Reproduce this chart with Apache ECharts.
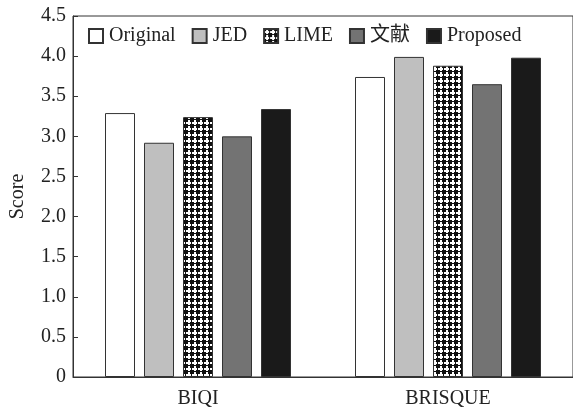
<!DOCTYPE html>
<html>
<head>
<meta charset="utf-8">
<script src="https://cdn.jsdelivr.net/npm/echarts@6/dist/echarts.min.js"></script>
<style>html,body{margin:0;padding:0;background:#fff}#c{width:573px;height:413px}</style>
</head>
<body>
<div id="c"></div>
<script>
const categories = ['BIQI', 'BRISQUE'];
const seriesNames = ['Original', 'JED', 'LIME', '文献', 'Proposed'];
const original = [3.29, 3.74];
const jed = [2.92, 3.99];
const lime = [3.24, 3.88];
const wenxian = [3.00, 3.65];
const proposed = [3.34, 3.98];
const yTicks = ['0', '0.5', '1.0', '1.5', '2.0', '2.5', '3.0', '3.5', '4.0', '4.5'];

function makePattern() {
  const c = document.createElement('canvas');
  c.width = 6; c.height = 6;
  const g = c.getContext('2d');
  g.fillStyle = '#111';
  g.fillRect(0, 0, 6, 6);
  g.fillStyle = '#fff';
  g.fillRect(2, 0, 2, 5);
  g.fillRect(0, 2, 5, 2);
  return c;
}

const font = '"Liberation Serif", "Times New Roman", serif';
const fills = ['#ffffff', '#bfbfbf', {image: makePattern(), repeat: 'repeat'}, '#737373', '#1a1a1a'];
const dataArr = [original, jed, lime, wenxian, proposed];

const chart = echarts.init(document.getElementById('c'), null, {renderer: 'canvas'});
chart.setOption({
  backgroundColor: '#fff',
  animation: false,
  grid: {left: 70, right: -1, top: 16, bottom: 36, show: true, borderColor: '#333', borderWidth: 1, backgroundColor: 'transparent'},
  legend: {
    left: 83, top: 21, itemWidth: 14, itemHeight: 14, itemGap: 16,
    icon: 'rect',
    data: seriesNames,
    textStyle: {fontFamily: font + ', "Noto Sans CJK SC"', fontSize: 20, color: '#222', padding: [0, 0, 0, 1]}
  },
  xAxis: {
    type: 'category', data: categories,
    axisLine: {lineStyle: {color: '#333'}},
    axisTick: {show: false},
    axisLabel: {fontFamily: font, fontSize: 20, color: '#222', margin: 12}
  },
  yAxis: {
    type: 'value', min: 0, max: 4.5, interval: 0.5,
    name: 'Score', nameLocation: 'middle', nameGap: 45,
    nameTextStyle: {fontFamily: font, fontSize: 20, color: '#222'},
    axisLine: {show: true, lineStyle: {color: '#333'}},
    axisTick: {show: true, inside: true, length: 5, lineStyle: {color: '#333'}},
    splitLine: {show: false},
    axisLabel: {fontFamily: font, fontSize: 20, color: '#222', margin: 7,
      formatter: function (v) { return yTicks[Math.round(v * 2)]; }}
  },
  series: seriesNames.map((n, i) => ({
    name: n, type: 'bar', data: dataArr[i], barWidth: 30, barGap: '30%',
    itemStyle: {color: fills[i], borderColor: '#333', borderWidth: 1}
  }))
});
</script>
</body>
</html>
